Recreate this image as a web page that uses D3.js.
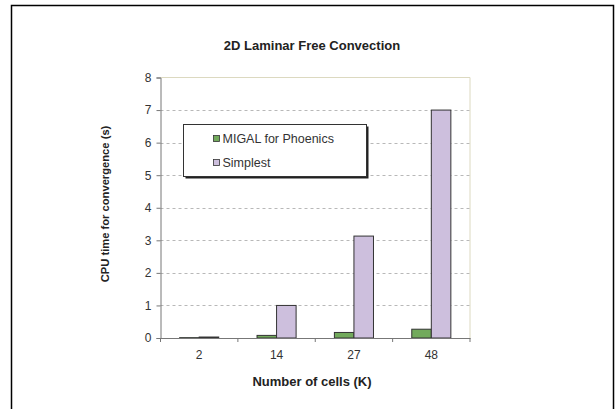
<!DOCTYPE html>
<html>
<head>
<meta charset="utf-8">
<script src="https://cdn.jsdelivr.net/npm/d3@7"></script>
<style>
  body { margin: 0; background: #fff; }
  svg { display: block; font-family: "Liberation Sans", Arial, sans-serif; }
</style>
</head>
<body>
<script>
// data
const categories = ["2", "14", "27", "48"];
const seriesNames = ["MIGAL for Phoenics", "Simplest"];
const migal = [0.01, 0.08, 0.17, 0.27];
const simplest = [0.03, 1.0, 3.13, 7.0];
const yTicks = [0, 1, 2, 3, 4, 5, 6, 7, 8];
const colors = ["#72aa5c", "#cdbfdd"];

const w = 616, h = 409;
const plotLeft = 160.5, plotRight = 470, plotTop = 77.5, plotBottom = 338;

const svg = d3.select("body").append("svg")
    .attr("width", w)
    .attr("height", h);

// outer chart frame
svg.append("rect")
    .attr("x", 11.5).attr("y", 5.5)
    .attr("width", 602).attr("height", 420)
    .attr("fill", "#fff")
    .attr("stroke", "#000")
    .attr("stroke-width", 1.5);

const x = d3.scaleBand()
    .domain(categories)
    .range([plotLeft, plotRight]);

const x1 = d3.scaleBand()
    .domain(seriesNames)
    .range([0, x.bandwidth()])
    .paddingInner(0)
    .paddingOuter(0.98);

const y = d3.scaleLinear()
    .domain([0, 8])
    .range([plotBottom, plotTop]);

// plot border (light, top and right)
svg.append("path")
    .attr("d", `M${plotLeft},${plotTop}H${plotRight}V${plotBottom}`)
    .attr("fill", "none")
    .attr("stroke", "#dcd9c0")
    .attr("stroke-width", 1);

// gridlines
svg.append("g")
    .selectAll("line")
    .data(yTicks.filter(d => d > 0 && d < 8))
    .enter()
    .append("line")
    .attr("x1", plotLeft).attr("x2", plotRight)
    .attr("y1", d => Math.round(y(d)) + 0.5)
    .attr("y2", d => Math.round(y(d)) + 0.5)
    .attr("stroke", "#b8b8b8")
    .attr("stroke-dasharray", "3,3");

// bars
const rows = categories.map((c, i) => ({cat: c, vals: [migal[i], simplest[i]]}));
const groups = svg.append("g")
    .selectAll("g")
    .data(rows)
    .enter()
    .append("g")
    .attr("transform", d => `translate(${x(d.cat)},0)`);

groups.selectAll("rect")
    .data(d => d.vals.map((v, j) => ({name: seriesNames[j], v: v, j: j})))
    .enter()
    .append("rect")
    .attr("x", d => x1(d.name))
    .attr("width", x1.bandwidth())
    .attr("y", d => y(d.v))
    .attr("height", d => y(0) - y(d.v))
    .attr("fill", d => colors[d.j])
    .attr("stroke", "#333")
    .attr("stroke-width", 1);

// y axis
const yAxis = d3.axisLeft(y)
    .tickValues(yTicks)
    .tickSize(4)
    .tickPadding(5);
const gy = svg.append("g")
    .attr("transform", `translate(${plotLeft},0)`)
    .call(yAxis);
gy.select(".domain").attr("stroke", "#777");
gy.selectAll(".tick line").attr("stroke", "#777");
gy.selectAll("text").attr("font-size", 12).attr("fill", "#333");

// x axis
const xAxis = d3.axisBottom(x)
    .tickSize(0)
    .tickPadding(12);
const gx = svg.append("g")
    .attr("transform", `translate(0,${plotBottom})`)
    .call(xAxis);
gx.select(".domain").attr("stroke", "#777");
gx.selectAll("text").attr("font-size", 12).attr("fill", "#333");

// category boundary ticks
svg.append("g")
    .selectAll("line")
    .data(categories.concat(["end"]))
    .enter()
    .append("line")
    .attr("x1", (d, i) => i < categories.length ? x(d) : plotRight)
    .attr("x2", (d, i) => i < categories.length ? x(d) : plotRight)
    .attr("y1", plotBottom)
    .attr("y2", plotBottom + 4)
    .attr("stroke", "#777");

// title and axis labels
svg.append("text")
    .attr("x", 312).attr("y", 49.5)
    .attr("text-anchor", "middle")
    .attr("font-size", 13).attr("font-weight", "bold")
    .attr("fill", "#222")
    .text("2D Laminar Free Convection");

svg.append("text")
    .attr("x", 312).attr("y", 385.5)
    .attr("text-anchor", "middle")
    .attr("font-size", 13).attr("font-weight", "bold")
    .attr("fill", "#222")
    .text("Number of cells (K)");

svg.append("text")
    .attr("transform", "translate(109,204) rotate(-90)")
    .attr("text-anchor", "middle")
    .attr("font-size", 11.2).attr("font-weight", "bold")
    .attr("fill", "#222")
    .text("CPU time for convergence (s)");

// legend with shadow
const lg = svg.append("g").attr("transform", "translate(183.5,124.5)");
lg.append("rect")
    .attr("x", 2).attr("y", 2)
    .attr("width", 183).attr("height", 52)
    .attr("fill", "#222");
lg.append("rect")
    .attr("width", 183).attr("height", 52)
    .attr("fill", "#fff")
    .attr("stroke", "#333");

const items = lg.selectAll("g.item")
    .data(seriesNames)
    .enter()
    .append("g")
    .attr("class", "item")
    .attr("transform", (d, i) => `translate(30,${14 + i * 24})`);
items.append("rect")
    .attr("x", 0).attr("y", -3)
    .attr("width", 6).attr("height", 6)
    .attr("fill", (d, i) => colors[i])
    .attr("stroke", "#333")
    .attr("stroke-width", 0.8);
items.append("text")
    .attr("x", 9).attr("y", 4.5)
    .attr("font-size", 12.5)
    .attr("fill", "#333")
    .text(d => d);
</script>
</body>
</html>
